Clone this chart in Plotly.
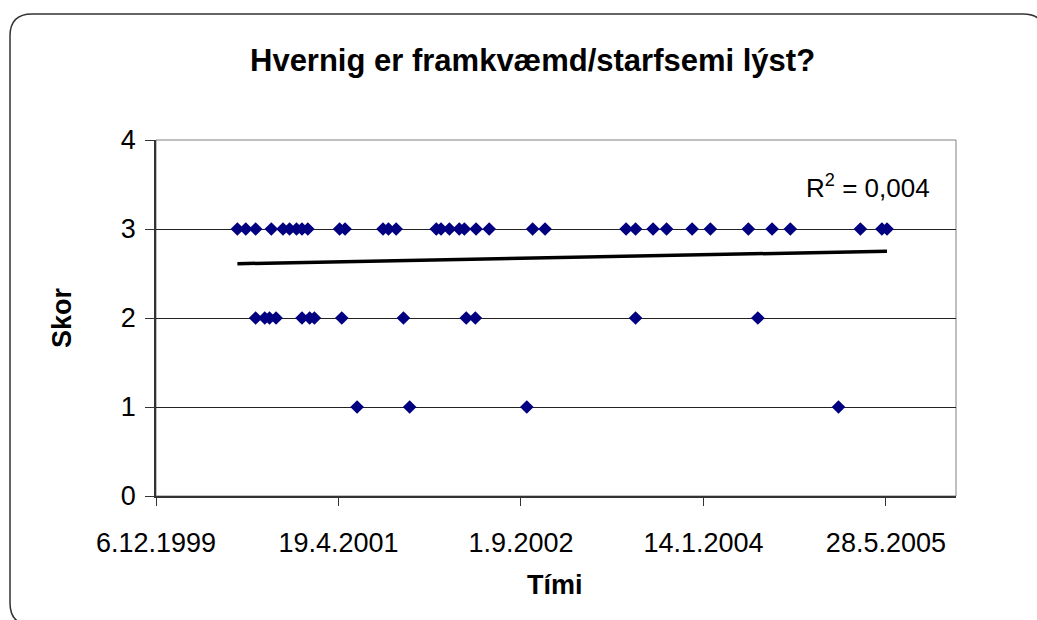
import plotly.graph_objects as go

# ---- data ----
dates_score3 = [
    "2000-07-16", "2000-08-08", "2000-09-04", "2000-10-17", "2000-11-18",
    "2000-12-06", "2000-12-25", "2001-01-09", "2001-01-25", "2001-04-22",
    "2001-05-07", "2001-08-19", "2001-09-03", "2001-09-24", "2002-01-12",
    "2002-01-25", "2002-02-17", "2002-03-16", "2002-03-30", "2002-05-01",
    "2002-06-06", "2002-10-03", "2002-11-06", "2003-06-16", "2003-07-12",
    "2003-08-29", "2003-10-05", "2003-12-14", "2004-02-02", "2004-05-16",
    "2004-07-20", "2004-09-08", "2005-03-19", "2005-05-17", "2005-05-31",
]
dates_score2 = [
    "2000-09-04", "2000-09-29", "2000-10-12", "2000-10-30", "2001-01-09",
    "2001-01-30", "2001-02-12", "2001-04-28", "2001-10-14", "2002-04-04",
    "2002-04-29", "2003-07-12", "2004-06-11",
]
dates_score1 = ["2001-06-09", "2001-10-31", "2002-09-17", "2005-01-18"]

trend_dates = ["2000-07-16", "2005-05-31"]
trend_values = [2.61, 2.75]

tick_dates = ["1999-12-06", "2001-04-19", "2002-09-01", "2004-01-14", "2005-05-28"]
tick_labels = ["6.12.1999", "19.4.2001", "1.9.2002", "14.1.2004", "28.5.2005"]
x_range = ["1999-12-06", "2005-12-06"]
y_ticks = [0, 1, 2, 3, 4]

title_text = "Hvernig er framkvæmd/starfsemi lýst?"
x_title = "Tími"
y_title = "Skor"
r2_text = "R<sup>2</sup> = 0,004"

dates = dates_score3 + dates_score2 + dates_score1
scores = [3] * len(dates_score3) + [2] * len(dates_score2) + [1] * len(dates_score1)

# ---- layout geometry (pixels) ----
W, H = 1037, 620
ML, MR, MT, MB = 156, 81, 140, 124
PW = W - ML - MR
PH = H - MT - MB


def px(x):
    return (x - ML) / PW


def py(y):
    return (H - MB - y) / PH


FONT = "Liberation Sans, Arial, sans-serif"

fig = go.Figure()
fig.add_trace(go.Scatter(
    x=dates, y=scores, mode="markers",
    marker=dict(symbol="diamond", size=10.5, color="#000080",
                line=dict(width=0)),
    showlegend=False, cliponaxis=False,
))
fig.add_trace(go.Scatter(
    x=trend_dates, y=trend_values, mode="lines",
    line=dict(color="black", width=3.5),
    showlegend=False,
))

# rounded outer frame
L, T, R, B, r = 10, 14, 1045, 625, 22
path = (
    f"M {px(L)},{py(T + r)} Q {px(L)},{py(T)} {px(L + r)},{py(T)} "
    f"L {px(R - r)},{py(T)} Q {px(R)},{py(T)} {px(R)},{py(T + r)} "
    f"L {px(R)},{py(B - r)} Q {px(R)},{py(B)} {px(R - r)},{py(B)} "
    f"L {px(L + r)},{py(B)} Q {px(L)},{py(B)} {px(L)},{py(B - r)} Z"
)
shapes = [
    dict(type="path", xref="paper", yref="paper", path=path,
         line=dict(color="#333333", width=1.5), layer="below"),
    dict(type="rect", xref="paper", yref="paper", x0=0, x1=1, y0=0, y1=1,
         line=dict(color="#808080", width=1), layer="below"),
]

annotations = [
    dict(text=f"<b>{title_text}</b>", xref="paper", yref="paper",
         x=px(532), y=py(61), xanchor="center", yanchor="middle",
         showarrow=False, font=dict(family=FONT, size=31, color="black")),
    dict(text=f"<b>{x_title}</b>", xref="paper", yref="paper",
         x=px(555), y=py(585), xanchor="center", yanchor="middle",
         showarrow=False, font=dict(family=FONT, size=27, color="black")),
    dict(text=f"<b>{y_title}</b>", xref="paper", yref="paper",
         x=px(62), y=py(318), xanchor="center", yanchor="middle",
         textangle=-90, showarrow=False,
         font=dict(family=FONT, size=27, color="black")),
    dict(text=r2_text, xref="paper", yref="paper",
         x=px(932), y=py(186), xanchor="right", yanchor="middle",
         showarrow=False, font=dict(family=FONT, size=26, color="black")),
]

fig.update_layout(
    width=W, height=H,
    margin=dict(l=ML, r=MR, t=MT, b=MB, pad=0),
    paper_bgcolor="white", plot_bgcolor="white",
    font=dict(family=FONT, size=27, color="black"),
    shapes=shapes, annotations=annotations,
    hovermode=False,
    xaxis=dict(
        type="date", range=x_range, tickmode="array",
        tickvals=tick_dates, ticktext=tick_labels,
        showgrid=False, zeroline=False,
        showline=True, linecolor="#333333", linewidth=1.5,
        ticks="outside", ticklen=8, tickcolor="#333333", tickwidth=1,
        ticklabelstandoff=14,
        tickfont=dict(family=FONT, size=27, color="black"),
    ),
    yaxis=dict(
        range=[0, 4], tickmode="array", tickvals=y_ticks,
        showgrid=True, gridcolor="#222222", gridwidth=1,
        zeroline=False,
        showline=True, linecolor="#333333", linewidth=1.5,
        ticks="outside", ticklen=9, tickcolor="#333333", tickwidth=1,
        ticklabelstandoff=4,
        tickfont=dict(family=FONT, size=27, color="black"),
    ),
)

fig.write_html(
    "out.html",
    config={"displayModeBar": False},
    post_script="document.body.style.margin='0';document.body.style.overflow='hidden';",
)
